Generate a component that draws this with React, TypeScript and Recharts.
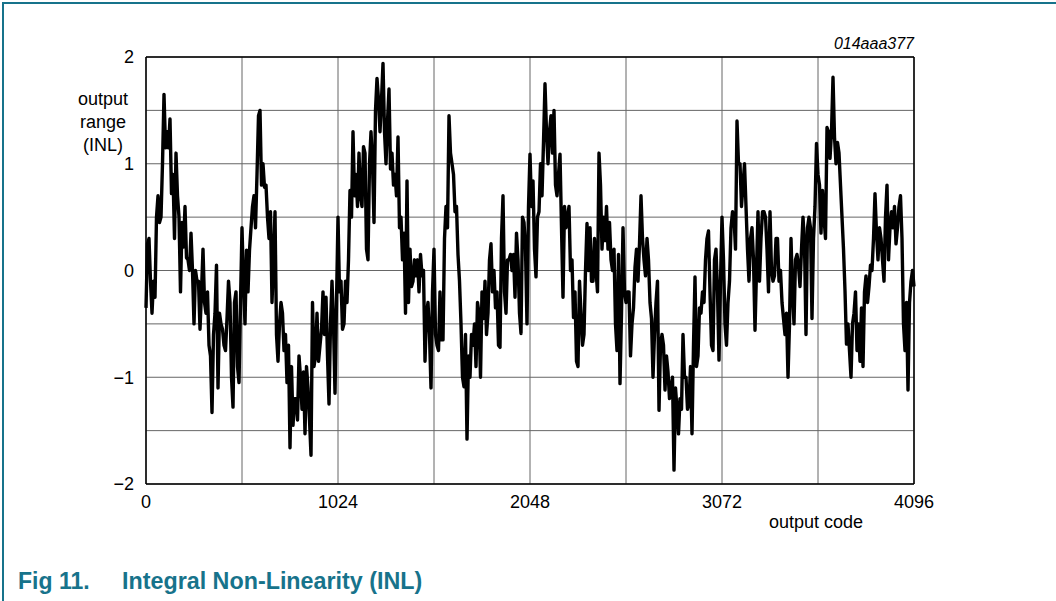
import React from "react";
import { LineChart, Line, XAxis, YAxis, CartesianGrid, ReferenceLine } from "recharts";

// INL readings at every 16th output code (codes 0, 16, 32 ...), one array per 512-code block
const inlBlock0 = [-0.35, 0.3, -0.4, -0.25, 0.7, 0.5, 1.65, 1.3, 1.42, 0.9, 1.1, 0.5, 0.45, 0.6, 0.1, 0.35, -0.5, -0.1, -0.55, 0.2, -0.4, -0.7, -1.33, -0.4, -1.1, -0.5, -0.7, -0.45, -0.3, -1.28, -0.2, -1.05];
const inlBlock1 = [0.4, -0.5, -0.2, 0.4, 0.7, 0.9, 1.5, 1.0, 0.8, 0.3, -0.3, 0.55, -0.85, -0.3, -0.75, -1.05, -1.66, -1.45, -1.2, -0.8, -1.3, -1.53, -1.1, -1.73, -0.9, -0.4, -0.7, -0.2, -0.25, -1.25, -0.1, -1.15];
const inlBlock2 = [0.5, -0.1, -0.5, -0.3, 0.75, 1.3, 0.9, 1.1, 0.6, 1.1, 0.1, 1.3, 0.45, 1.8, 1.3, 1.94, 1.0, 1.7, 1.1, 0.9, 1.25, 0.5, 0.35, 0.84, 0.2, -0.1, -0.05, -0.2, -0.05, -0.85, -0.3, -1.1];
const inlBlock3 = [0.2, -0.7, -0.2, -0.65, 0.6, 1.45, 1.0, 0.55, 0.15, -0.5, -1.09, -1.58, -1.0, -0.7, -0.9, -0.4, -0.2, -0.1, -0.4, 0.25, 0.0, -0.2, -0.72, 0.7, -0.4, 0.1, 0.0, -0.25, 0.1, -0.59, 0.45, -0.5];
const inlBlock4 = [1.09, 0.84, -0.06, 0.55, 0.7, 1.75, 1.0, 1.45, 1.5, 0.7, 1.09, -0.25, 0.4, 0.6, 0.1, -0.2, -0.9, -0.4, -0.6, 0.44, 0.4, -0.1, 0.0, 1.1, 0.2, 0.28, 0.2, 0.1, 0.2, -0.75, -1.06, 0.4];
const inlBlock5 = [-0.3, -0.2, -0.5, 0.03, -0.1, 0.7, 0.1, 0.3, -0.3, -1.0, -0.3, -1.31, -0.6, -1.12, -0.95, -1.1, -1.87, -1.3, -1.2, -0.6, -1.0, -1.25, -1.53, -0.06, -0.8, -0.4, -0.3, 0.3, -0.2, -0.75, 0.2, -0.84];
const inlBlock6 = [0.5, -0.5, -0.3, 0.4, 0.5, 1.4, 1.0, 0.8, 0.6, -0.1, 0.4, -0.56, 0.55, 0.3, 0.55, 0.2, 0.55, -0.1, 0.3, -0.1, -0.3, -0.6, -1.0, 0.3, -0.5, 0.15, -0.15, 0.5, -0.6, 0.5, -0.45, 0.6];
const inlBlock7 = [0.9, 0.35, 0.5, 1.34, 1.05, 1.81, 1.0, 1.1, 0.5, -0.19, -0.5, -1.0, -0.4, -0.75, -0.85, -0.9, -0.05, -0.15, 0.0, 0.72, 0.1, 0.3, -0.1, 0.8, 0.4, 0.4, 0.25, 0.6, 0.3, -0.75, -1.12, -0.1, -0.15];

// readings half way between (codes 8, 24, 40 ...)
const inlMid0 = [0.25, -0.1, -0.1, 0.5, 0.45, 1.0, 1.15, 1.15, 0.72, 0.3, 0.7, -0.2, 0.22, 0.12, 0.0, 0.0, 0.0, -0.1, -0.2, -0.3, -0.2, -0.8, -0.6, 0.05, -0.4, -0.55, -0.75, -0.1, -1.0, -0.3, -0.9, -0.3];
const inlMid1 = [-0.12, 0.19, 0.19, 0.6, 0.4, 1.45, 0.8, 0.78, 0.5, 0.55, 0.1, -0.6, -0.5, -0.4, -0.6, -0.7, -0.9, -1.2, -1.4, -1.0, -0.95, -0.9, -1.4, -0.3, -0.8, -0.85, -0.55, -0.6, -0.8, -0.5, -0.5, -0.3];
const inlMid2 = [-0.2, -0.55, -0.1, 0.1, 0.5, 0.7, 0.6, 0.7, 1.16, 0.2, 1.0, 1.0, 1.5, 1.6, 1.6, 1.3, 1.4, 0.95, 0.8, 0.7, 0.4, 0.1, -0.4, -0.3, -0.15, 0.1, 0.1, 0.15, 0.0, -0.4, -0.6, -0.2];
const inlMid3 = [-0.6, -0.75, -0.65, 0.3, 0.4, 1.1, 0.9, 0.6, -0.1, -1.0, -0.6, -0.8, -0.6, -0.5, -0.3, -1.0, -0.45, -0.6, 0.1, -0.2, -0.35, -0.7, 0.3, -0.2, 0.1, 0.15, 0.15, 0.35, -0.4, 0.5, 0.2, 0.6];
const inlMid4 = [0.6, 0.2, 0.5, 1.0, 1.2, 1.3, 1.3, 1.1, 0.8, 0.9, 0.4, 0.6, 0.5, 0.0, -0.44, -0.85, -0.1, -0.7, 0.0, 0.0, -0.1, 0.3, -0.2, 0.8, 0.5, 0.6, 0.45, 0.0, -0.5, 0.15, -0.4, -0.2];
const inlMid5 = [-0.2, -0.8, -0.35, 0.2, 0.25, 0.3, -0.05, 0.1, -0.45, -0.6, -0.1, -0.7, -0.7, -0.8, -1.2, -1.0, -1.1, -1.53, -1.3, -1.0, -1.3, -0.9, -0.7, -0.9, -0.35, -0.2, 0.1, 0.37, -0.7, 0.1, -0.2, -0.1];
const inlMid6 = [0.1, -0.7, -0.1, 0.55, 0.2, 1.0, 0.6, 1.0, 0.2, 0.3, 0.1, 0.0, -0.1, 0.55, 0.5, -0.2, 0.0, -0.05, 0.3, 0.0, -0.45, -0.4, -0.5, -0.2, 0.1, 0.05, 0.2, 0.25, 0.4, 0.4, 0.3, 1.19];
const inlMid7 = [0.8, 0.75, 0.3, 1.3, 1.3, 1.25, 1.2, 0.8, 0.2, -0.69, -0.75, -0.5, -0.2, -0.5, -0.35, -0.2, -0.3, 0.05, 0.3, 0.35, 0.4, 0.1, 0.5, 0.1, 0.55, 0.6, 0.4, 0.7, -0.5, -0.3, -0.3, 0.0];

const BLOCK_CODES = 512;
const CODE_STEP = 16;
const xTicks = [0, 512, 1024, 1536, 2048, 2560, 3072, 3584, 4096];
const yTicks = [-2, -1.5, -1, -0.5, 0, 0.5, 1, 1.5, 2];

const mainBlocks = [inlBlock0, inlBlock1, inlBlock2, inlBlock3, inlBlock4, inlBlock5, inlBlock6, inlBlock7];
const midBlocks = [inlMid0, inlMid1, inlMid2, inlMid3, inlMid4, inlMid5, inlMid6, inlMid7];

const data: { code: number; inl: number }[] = [];
mainBlocks.forEach((block, b) => {
  block.forEach((inl, i) => {
    const code = b * BLOCK_CODES + i * CODE_STEP;
    data.push({ code, inl });
    const mid = midBlocks[b][i];
    if (mid !== undefined) data.push({ code: code + CODE_STEP / 2, inl: mid });
  });
});

const FONT = '"Liberation Sans", Arial, Helvetica, sans-serif';
const TEAL = "#17738b";

const tickStyle = { fontSize: 18, fill: "#000", fontFamily: FONT };

function fmtY(v: number) {
  if (!Number.isInteger(v)) return "";
  return v < 0 ? `\u2212${Math.abs(v)}` : `${v}`;
}

function fmtX(v: number) {
  return v % 1024 === 0 ? `${v}` : "";
}

export default function App() {
  return (
    <div style={{ position: "absolute", left: 0, top: 0, width: 1056, height: 601, background: "#fff", fontFamily: FONT, overflow: "hidden" }}>
      {/* figure frame */}
      <div style={{ position: "absolute", left: 2, top: 2, width: 1060, height: 610, borderTop: `2px solid ${TEAL}`, borderLeft: `2px solid ${TEAL}` }} />

      <LineChart width={1056} height={601} data={data} margin={{ top: 57, right: 142, left: 86, bottom: 87 }}>
        <CartesianGrid stroke="#666" strokeWidth={1} />
        <XAxis
          dataKey="code"
          type="number"
          domain={[0, 4096]}
          ticks={xTicks}
          tickFormatter={fmtX}
          axisLine={false}
          tickLine={false}
          tickSize={0}
          tickMargin={11}
          tick={tickStyle}
          height={30}
          interval={0}
        />
        <YAxis
          type="number"
          domain={[-2, 2]}
          ticks={yTicks}
          tickFormatter={fmtY}
          axisLine={false}
          tickLine={false}
          tickSize={0}
          tickMargin={12}
          tick={tickStyle}
          width={60}
          interval={0}
        />
        <ReferenceLine x={0} stroke="#000" strokeWidth={1.5} />
        <ReferenceLine x={4096} stroke="#000" strokeWidth={1.5} />
        <ReferenceLine y={-2} stroke="#000" strokeWidth={1.5} />
        <ReferenceLine y={2} stroke="#000" strokeWidth={1.5} />
        <Line
          type="linear"
          dataKey="inl"
          stroke="#000"
          strokeWidth={3.4}
          strokeLinejoin="round"
          dot={false}
          isAnimationActive={false}
        />
      </LineChart>

      <div style={{ position: "absolute", left: 714, top: 36, width: 200, textAlign: "right", fontSize: 16, fontStyle: "italic", lineHeight: "16px" }}>
        014aaa377
      </div>
      <div style={{ position: "absolute", left: 53, top: 88, width: 100, textAlign: "center", fontSize: 18, lineHeight: "23px" }}>
        output<br />range<br />(INL)
      </div>
      <div style={{ position: "absolute", left: 769, top: 511, fontSize: 18, lineHeight: "22px" }}>
        output code
      </div>
      <div style={{ position: "absolute", left: 18, top: 568, fontSize: 23, fontWeight: "bold", color: TEAL, lineHeight: "26px", whiteSpace: "nowrap" }}>
        Fig 11.
      </div>
      <div style={{ position: "absolute", left: 122, top: 568, fontSize: 23.3, fontWeight: "bold", color: TEAL, lineHeight: "26px", whiteSpace: "nowrap" }}>
        Integral Non-Linearity (INL)
      </div>
    </div>
  );
}
